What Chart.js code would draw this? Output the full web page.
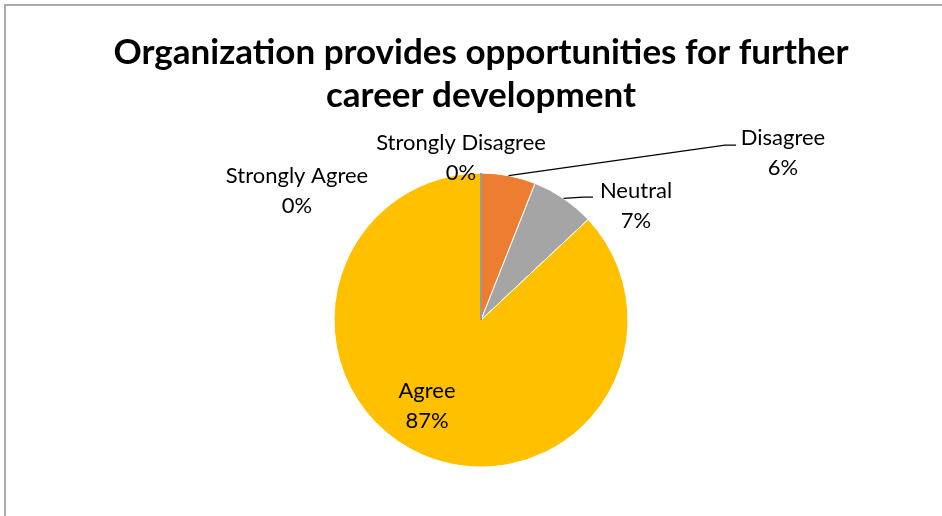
<!DOCTYPE html>
<html>
<head>
<meta charset="utf-8">
<script src="https://cdn.jsdelivr.net/npm/chart.js@4.4.1/dist/chart.umd.min.js"></script>
<style>
    html, body { margin: 0; padding: 0; background: #fff; }
    #wrap { position: relative; width: 942px; height: 516px; overflow: hidden; }
    #frame { position: absolute; left: 4px; top: 4px; width: 960px; height: 540px;
             border-left: 2px solid #ababab; border-top: 2px solid #ababab; }
    canvas { position: absolute; left: 0; top: 0; }
</style>
</head>
<body>
<div id="wrap">
    <div id="frame"></div>
    <canvas id="pieChart" width="942" height="516"></canvas>
</div>
<script>
    // Survey answers, clockwise from 12 o'clock
    const categories = ['Strongly Disagree', 'Disagree', 'Neutral', 'Agree', 'Strongly Agree'];
    const percents = [0, 6, 7, 87, 0];
    const sliceColors = ['#4472C4', '#ED7D31', '#A5A5A5', '#FFC000', '#5B9BD5'];
    const chartTitle = ['Organization provides opportunities for further', 'career development'];

    const labelFont = '22px Lato';
    const lineGap = 30;

    // label placement relative to the pie centre, plus optional leader line elbow
    const labelLayout = [
        { dx: -20, dy: -177 },
        { dx: 302, dy: -182, elbow: [244, -175], end: [255, -175] },
        { dx: 155, dy: -129, elbow: [102, -123], end: [112, -123] },
        { dx: -54, dy: 71 },
        { dx: -184, dy: -144 }
    ];

    const pieLabels = {
        id: 'pieLabels',
        afterDatasetsDraw(chart) {
            const ctx = chart.ctx;
            const arcs = chart.getDatasetMeta(0).data;
            const cx = arcs[0].x, cy = arcs[0].y;

            // zero-width slices still show as a thin divider
            arcs.forEach((arc, i) => {
                if (percents[i] !== 0) return;
                const r = arc.outerRadius;
                ctx.save();
                ctx.strokeStyle = '#9a9a9a';
                ctx.lineWidth = 2;
                ctx.beginPath();
                ctx.moveTo(cx, cy);
                ctx.lineTo(cx + r * Math.cos(arc.startAngle), cy + r * Math.sin(arc.startAngle));
                ctx.stroke();
                ctx.restore();
            });

            ctx.save();
            ctx.font = labelFont;
            ctx.fillStyle = '#000';
            ctx.textAlign = 'center';
            ctx.textBaseline = 'middle';
            arcs.forEach((arc, i) => {
                const pos = labelLayout[i];
                const x = cx + pos.dx, y = cy + pos.dy;
                ctx.fillText(categories[i], x, y);
                ctx.fillText(percents[i] + '%', x, y + lineGap);

                if (pos.elbow) {
                    const mid = (arc.startAngle + arc.endAngle) / 2;
                    const r = arc.outerRadius;
                    ctx.strokeStyle = '#000';
                    ctx.lineWidth = 1.2;
                    ctx.beginPath();
                    ctx.moveTo(cx + r * Math.cos(mid), cy + r * Math.sin(mid));
                    ctx.lineTo(cx + pos.elbow[0], cy + pos.elbow[1]);
                    ctx.lineTo(cx + pos.end[0], cy + pos.end[1]);
                    ctx.stroke();
                }
            });
            ctx.restore();
        }
    };

    new Chart(document.getElementById('pieChart'), {
        type: 'pie',
        data: {
            labels: categories,
            datasets: [{
                data: percents,
                backgroundColor: sliceColors,
                borderColor: '#ffffff',
                borderWidth: 1,
                radius: 147
            }]
        },
        options: {
            responsive: false,
            animation: false,
            layout: { padding: { left: 30, right: 10, top: 0, bottom: 49 } },
            plugins: {
                legend: { display: false },
                tooltip: { enabled: false },
                title: {
                    display: true,
                    text: chartTitle,
                    color: '#000',
                    font: { family: 'Lato', size: 35, weight: 'bold', lineHeight: 1.23 },
                    padding: { top: 31, bottom: 56 }
                }
            }
        },
        plugins: [pieLabels]
    });
</script>
</body>
</html>
